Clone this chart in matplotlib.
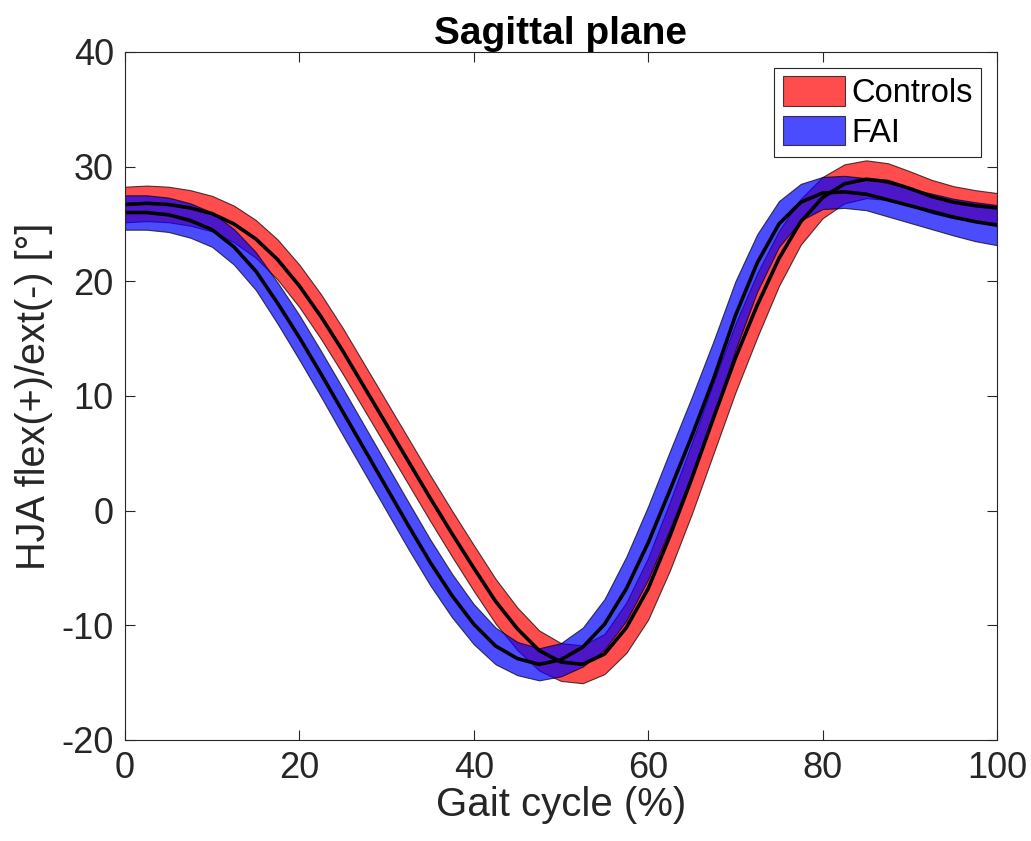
import matplotlib
matplotlib.use("Agg")
import matplotlib.pyplot as plt
from matplotlib.patches import Patch

plt.rcParams["font.family"] = ["Liberation Sans", "DejaVu Sans"]
plt.rcParams["axes.unicode_minus"] = False

# gait cycle in %
gait = [0, 2.5, 5, 7.5, 10, 12.5, 15, 17.5, 20, 22.5,
        25, 27.5, 30, 32.5, 35, 37.5, 40, 42.5, 45, 47.5,
        50, 52.5, 55, 57.5, 60, 62.5, 65, 67.5, 70, 72.5,
        75, 77.5, 80, 82.5, 85, 87.5, 90, 92.5, 95, 97.5, 100]

# Controls: mean and SD of hip joint angle
ctrl_mean = [26.7, 26.8, 26.7, 26.4, 25.9, 25.0, 23.7, 21.9, 19.6, 16.9,
             13.9, 10.7, 7.5, 4.3, 1.1, -2.0, -5.0, -7.9, -10.3, -12.2,
             -13.2, -13.4, -12.5, -10.2, -6.8, -2.2, 2.8, 8.1, 13.3, 17.9,
             22.0, 25.2, 27.3, 28.5, 28.9, 28.7, 28.1, 27.4, 26.9, 26.6, 26.4]
ctrl_sd = [1.55, 1.55, 1.55, 1.55, 1.55, 1.6, 1.65, 1.75, 1.85, 1.95,
           2.0, 2.0, 2.0, 2.0, 2.0, 2.0, 2.0, 1.95, 1.85, 1.75,
           1.65, 1.65, 1.75, 2.2, 2.7, 3.0, 3.1, 3.1, 3.0, 2.8,
           2.4, 2.0, 1.8, 1.7, 1.65, 1.6, 1.5, 1.45, 1.4, 1.35, 1.3]

# FAI: mean and SD
fai_mean = [26.0, 26.0, 25.8, 25.3, 24.5, 23.0, 20.9, 18.1, 15.1, 11.9,
            8.6, 5.3, 2.0, -1.3, -4.5, -7.4, -9.9, -11.8, -12.9, -13.4,
            -13.0, -11.9, -9.9, -6.8, -2.8, 1.8, 6.5, 11.5, 17.0, 21.6,
            25.0, 26.9, 27.7, 27.8, 27.6, 27.1, 26.6, 26.1, 25.6, 25.2, 24.9]
fai_sd = [1.5, 1.5, 1.5, 1.5, 1.5, 1.55, 1.65, 1.8, 1.95, 2.0,
          2.05, 2.05, 2.05, 2.05, 2.0, 1.9, 1.75, 1.6, 1.45, 1.4,
          1.45, 1.7, 2.2, 2.8, 3.2, 3.4, 3.4, 3.3, 3.0, 2.5,
          2.0, 1.6, 1.4, 1.4, 1.4, 1.45, 1.5, 1.55, 1.6, 1.7, 1.75]

fig = plt.figure(figsize=(10.31, 8.41), dpi=100)
ax = fig.add_axes([0.1212, 0.1201, 0.8458, 0.8181])

ctrl_lo = [m - s for m, s in zip(ctrl_mean, ctrl_sd)]
ctrl_hi = [m + s for m, s in zip(ctrl_mean, ctrl_sd)]
fai_lo = [m - s for m, s in zip(fai_mean, fai_sd)]
fai_hi = [m + s for m, s in zip(fai_mean, fai_sd)]

ax.fill_between(gait, ctrl_lo, ctrl_hi, facecolor="red", alpha=0.7,
                edgecolor="black", linewidth=0.8)
ax.plot(gait, ctrl_mean, color="black", linewidth=2.6)
ax.fill_between(gait, fai_lo, fai_hi, facecolor="blue", alpha=0.7,
                edgecolor="black", linewidth=0.8)
ax.plot(gait, fai_mean, color="black", linewidth=2.6)

ax.set_xlim(0, 100)
ax.set_ylim(-20, 40)
ax.set_xticks([0, 20, 40, 60, 80, 100])
ax.set_yticks([-20, -10, 0, 10, 20, 30, 40])
ax.tick_params(direction="in", top=True, right=True, length=7,
               width=0.8, labelsize=26, colors="#262626", pad=8)
for sp in ax.spines.values():
    sp.set_color("#262626")
    sp.set_linewidth(0.8)

ax.set_title("Sagittal plane", fontsize=28, fontweight="bold", pad=6)
ax.set_xlabel("Gait cycle (%)", fontsize=29, color="#262626", labelpad=0)
ax.set_ylabel("HJA flex(+)/ext(-) [°]", fontsize=28.5, color="#262626", labelpad=6)

handles = [Patch(facecolor="red", alpha=0.7, edgecolor="black", linewidth=0.8),
           Patch(facecolor="blue", alpha=0.7, edgecolor="black", linewidth=0.8)]
leg = ax.legend(handles, ["Controls", "FAI"], loc="upper right", fontsize=23.5,
                handlelength=1.9, handleheight=1.0, handletextpad=0.2,
                labelspacing=0.2, borderpad=0.25, borderaxespad=0.5,
                fancybox=False, framealpha=1, edgecolor="#262626")
leg.get_frame().set_linewidth(0.8)

plt.savefig("out.png", dpi=100)
plt.close()
